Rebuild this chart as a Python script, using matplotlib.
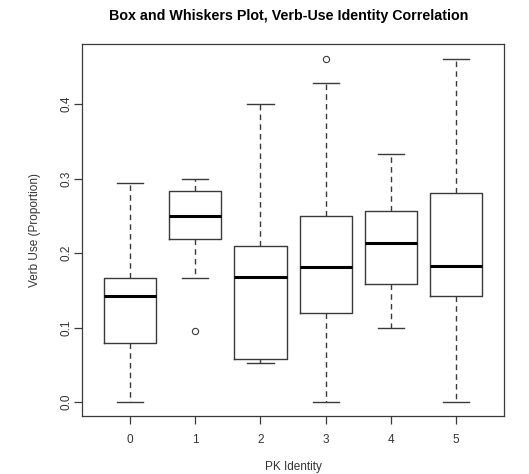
import matplotlib
matplotlib.use("Agg")
import matplotlib.pyplot as plt

plt.rcParams["font.family"] = ["Liberation Sans", "DejaVu Sans"]

# PK identity groups and box statistics
groups = ["0", "1", "2", "3", "4", "5"]
whisker_low = [0.000, 0.167, 0.053, 0.000, 0.100, 0.000]
q1 = [0.080, 0.219, 0.058, 0.120, 0.158, 0.143]
median = [0.143, 0.250, 0.168, 0.182, 0.214, 0.183]
q3 = [0.167, 0.283, 0.210, 0.250, 0.257, 0.280]
whisker_high = [0.294, 0.300, 0.400, 0.428, 0.333, 0.461]
outliers = [[], [0.095], [], [0.461], [], []]

stats = []
for i, g in enumerate(groups):
    stats.append(dict(label=g, whislo=whisker_low[i], q1=q1[i], med=median[i],
                      q3=q3[i], whishi=whisker_high[i], fliers=outliers[i]))

fig = plt.figure(figsize=(5.29, 4.74), dpi=100)
ax = fig.add_axes([0.155, 0.1224, 0.798, 0.7855])

line = "#3a3a3a"
ax.bxp(stats, positions=range(len(groups)), widths=0.8,
       boxprops=dict(color=line, lw=1.0),
       medianprops=dict(color="black", lw=2.2),
       whiskerprops=dict(color=line, lw=1.0, ls=(0, (4, 3))),
       capprops=dict(color=line, lw=1.0),
       capwidths=0.4,
       flierprops=dict(marker="o", markersize=4.5, markerfacecolor="none",
                       markeredgecolor=line, markeredgewidth=0.8))

ax.set_xlim(-0.74, 5.74)
ax.set_ylim(-0.0185, 0.481)
ax.set_yticks([0.0, 0.1, 0.2, 0.3, 0.4])
ax.set_yticklabels(["0.0", "0.1", "0.2", "0.3", "0.4"], rotation=90, va="center")
ax.set_xticks(range(len(groups)))
ax.set_xticklabels(groups)
ax.tick_params(colors=line, labelcolor="#333333", labelsize=8.5, length=6, width=0.9)
ax.tick_params(axis="x", pad=7)
ax.tick_params(axis="y", pad=1)
for s in ax.spines.values():
    s.set_color(line)
    s.set_linewidth(0.9)

ax.set_xlabel("PK Identity", fontsize=8.5, color="#333333", labelpad=11)
ax.set_ylabel("Verb Use (Proportion)", fontsize=8.5, color="#333333", labelpad=14)
fig.suptitle("Box and Whiskers Plot, Verb-Use Identity Correlation",
             fontsize=10.3, fontweight="bold", x=0.546, y=0.982)

fig.savefig("out.png", dpi=100)
